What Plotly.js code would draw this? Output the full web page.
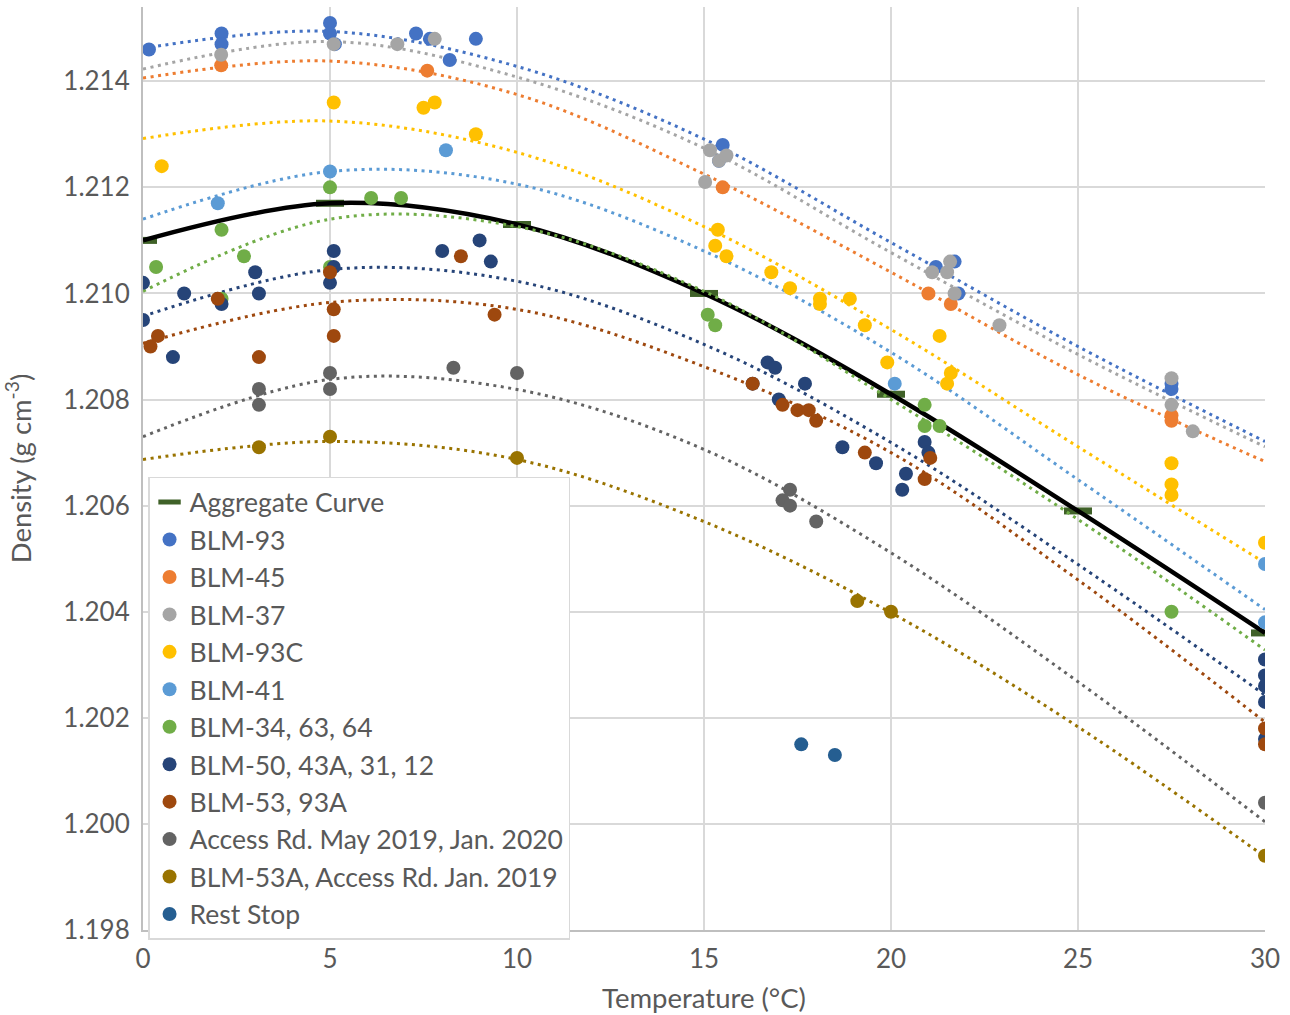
<!DOCTYPE html>
<html>
<head>
<meta charset="utf-8">
<script src="https://cdn.plot.ly/plotly-3.0.1.min.js"></script>
<style>html,body{margin:0;padding:0;background:#fff;}#chart{width:1290px;height:1015px;}</style>
</head>
<body>
<div id="chart"></div>
<script>
// ---- Data ----
const aggX = [0, 5, 10, 15, 20, 25, 30];
const aggY = [1.2110, 1.2117, 1.2113, 1.2100, 1.2081, 1.2059, 1.2036];

const blm93X = [0.16, 2.1, 2.1, 5.0, 5.0, 5.13, 7.3, 7.67, 8.2, 8.9, 15.5, 15.4, 21.2, 21.7, 21.8, 27.5, 27.5];
const blm93Y = [1.2146, 1.2149, 1.2147, 1.2151, 1.2149, 1.2147, 1.2149, 1.2148, 1.2144, 1.2148, 1.2128, 1.2125, 1.2105, 1.2106, 1.2100, 1.2083, 1.2082];

const blm45X = [2.09, 7.6, 15.5, 21.0, 21.6, 27.5, 27.5];
const blm45Y = [1.2143, 1.2142, 1.2120, 1.2100, 1.2098, 1.2077, 1.2076];

const blm37X = [2.09, 5.1, 6.8, 7.8, 15.03, 15.16, 15.4, 15.6, 21.1, 21.5, 21.58, 21.7, 22.9, 27.5, 27.5, 28.07];
const blm37Y = [1.2145, 1.2147, 1.2147, 1.2148, 1.2121, 1.2127, 1.2125, 1.2126, 1.2104, 1.2104, 1.2106, 1.2100, 1.2094, 1.2084, 1.2079, 1.2074];

const blm93cX = [0.5, 5.1, 7.5, 7.8, 8.9, 15.37, 15.3, 15.6, 16.8, 17.3, 18.1, 18.1, 18.9, 19.3, 19.9, 21.3, 21.6, 21.5, 27.5, 27.5, 27.5, 30];
const blm93cY = [1.2124, 1.2136, 1.2135, 1.2136, 1.2130, 1.2112, 1.2109, 1.2107, 1.2104, 1.2101, 1.2099, 1.2098, 1.2099, 1.2094, 1.2087, 1.2092, 1.2085, 1.2083, 1.2068, 1.2064, 1.2062, 1.2053];

const blm41X = [2.0, 5.0, 8.1, 20.1, 30, 30];
const blm41Y = [1.2117, 1.2123, 1.2127, 1.2083, 1.2049, 1.2038];

const blm34X = [0.35, 2.1, 2.7, 2.1, 5.0, 5.0, 6.1, 6.9, 15.1, 15.3, 20.9, 20.9, 21.3, 27.5];
const blm34Y = [1.2105, 1.2112, 1.2107, 1.2099, 1.2120, 1.2105, 1.2118, 1.2118, 1.2096, 1.2094, 1.2079, 1.2075, 1.2075, 1.2040];

const blm50X = [0, 0, 0.8, 1.1, 2.1, 3.0, 3.1, 5.1, 5.1, 5.0, 8.0, 9.0, 9.3, 16.7, 16.9, 16.3, 17.7, 17.0, 18.7, 19.6, 20.4, 20.3, 20.9, 21.0, 30, 30, 30, 30, 30];
const blm50Y = [1.2102, 1.2095, 1.2088, 1.2100, 1.2098, 1.2104, 1.2100, 1.2108, 1.2105, 1.2102, 1.2108, 1.2110, 1.2106, 1.2087, 1.2086, 1.2083, 1.2083, 1.2080, 1.2071, 1.2068, 1.2066, 1.2063, 1.2072, 1.2070, 1.2031, 1.2028, 1.2026, 1.2023, 1.2016];

const blm53X = [0.2, 0.4, 2.0, 3.1, 5.0, 5.1, 5.1, 8.5, 9.4, 16.3, 17.1, 17.5, 17.8, 18.0, 19.3, 20.9, 21.05, 30, 30];
const blm53Y = [1.2090, 1.2092, 1.2099, 1.2088, 1.2104, 1.2097, 1.2092, 1.2107, 1.2096, 1.2083, 1.2079, 1.2078, 1.2078, 1.2076, 1.2070, 1.2065, 1.2069, 1.2018, 1.2015];

const accessX = [3.1, 3.1, 5.0, 5.0, 8.3, 10.0, 17.3, 17.1, 17.3, 18.0, 30];
const accessY = [1.2082, 1.2079, 1.2085, 1.2082, 1.2086, 1.2085, 1.2063, 1.2061, 1.2060, 1.2057, 1.2004];

const blm53aX = [3.1, 5.0, 10.0, 19.1, 20.0, 30];
const blm53aY = [1.2071, 1.2073, 1.2069, 1.2042, 1.2040, 1.1994];

const restX = [17.6, 18.5];
const restY = [1.2015, 1.2013];

// Dotted trendlines (Excel polynomial trendlines)
const trendX = [0, 5, 10, 15, 20, 25, 30];
const trend93  = [1.21462, 1.21494, 1.21428, 1.21291, 1.21096, 1.20900, 1.20721];
const trend45  = [1.21406, 1.21438, 1.21375, 1.21225, 1.21040, 1.20847, 1.20683];
const trend37  = [1.21423, 1.21475, 1.21408, 1.21274, 1.21077, 1.20885, 1.20711];
const trend93c = [1.21292, 1.21325, 1.21266, 1.21126, 1.20932, 1.20711, 1.20492];
const trend41  = [1.21140, 1.21230, 1.21206, 1.21080, 1.20889, 1.20649, 1.20404];
const trend34  = [1.21004, 1.21140, 1.21126, 1.21004, 1.20800, 1.20574, 1.20328];
const trend50  = [1.20957, 1.21045, 1.21023, 1.20904, 1.20719, 1.20489, 1.20243];
const trend53  = [1.20906, 1.20983, 1.20970, 1.20862, 1.20700, 1.20460, 1.20192];
const trendAcc = [1.20730, 1.20838, 1.20819, 1.20706, 1.20511, 1.20268, 1.20004];
const trend53a = [1.20687, 1.20721, 1.20687, 1.20570, 1.20398, 1.20183, 1.19938];

const seriesNames = ["BLM-93", "BLM-45", "BLM-37", "BLM-93C", "BLM-41", "BLM-34, 63, 64",
  "BLM-50, 43A, 31, 12", "BLM-53, 93A", "Access Rd. May 2019, Jan. 2020",
  "BLM-53A, Access Rd. Jan. 2019", "Rest Stop"];
const seriesX = [blm93X, blm45X, blm37X, blm93cX, blm41X, blm34X, blm50X, blm53X, accessX, blm53aX, restX];
const seriesY = [blm93Y, blm45Y, blm37Y, blm93cY, blm41Y, blm34Y, blm50Y, blm53Y, accessY, blm53aY, restY];
const seriesTrend = [trend93, trend45, trend37, trend93c, trend41, trend34, trend50, trend53, trendAcc, trend53a, null];
const seriesColors = ["#4472C4", "#ED7D31", "#A5A5A5", "#FFC000", "#5B9BD5", "#70AD47",
  "#264478", "#9E480E", "#636363", "#997300", "#255E91"];

const font = "Lato, 'Open Sans', sans-serif";
const txt = "#595959";
const traces = [];

// Aggregate curve: markers (legend entry) + smoothed black line
traces.push({
  x: aggX, y: aggY, type: "scatter", mode: "markers", name: "Aggregate Curve",
  marker: {symbol: "line-ew", size: 20, color: "#3f6128", line: {color: "#3f6128", width: 7}},
  hoverinfo: "x+y"
});
traces.push({
  x: aggX, y: aggY, type: "scatter", mode: "lines", name: "Aggregate Curve line",
  line: {color: "#000000", width: 4.5, shape: "spline", smoothing: 1}, showlegend: false
});

// Trendlines
for (let s = 0; s < seriesNames.length; s++) {
  if (!seriesTrend[s]) continue;
  traces.push({
    x: trendX, y: seriesTrend[s], type: "scatter", mode: "lines", showlegend: false, hoverinfo: "skip",
    line: {color: seriesColors[s], width: 3, dash: "3px,4.5px", shape: "spline", smoothing: 1}
  });
}

// Data points
for (let s = 0; s < seriesNames.length; s++) {
  traces.push({
    x: seriesX[s], y: seriesY[s], type: "scatter", mode: "markers", name: seriesNames[s],
    marker: {color: seriesColors[s], size: 14, line: {width: 0}}
  });
}

const layout = {
  width: 1290, height: 1015,
  margin: {l: 143, r: 25, t: 7, b: 85},
  paper_bgcolor: "#ffffff", plot_bgcolor: "#ffffff",
  font: {family: font, color: txt, size: 24},
  showlegend: true,
  xaxis: {
    range: [0, 30], dtick: 5, tick0: 0, showgrid: true, gridcolor: "#d9d9d9", gridwidth: 1.5,
    zeroline: false, showline: true, linecolor: "#bfbfbf", linewidth: 2,
    ticks: "", tickfont: {family: font, size: 26, color: txt}, ticklabelstandoff: 5,
    title: {text: "Temperature (°C)", font: {family: font, size: 27.5, color: txt}, standoff: 16}
  },
  yaxis: {
    range: [1.198, 1.2154], dtick: 0.002, tick0: 1.198, tickformat: ".3f",
    showgrid: true, gridcolor: "#d9d9d9", gridwidth: 1.5,
    zeroline: false, showline: true, linecolor: "#bfbfbf", linewidth: 2,
    ticks: "", tickfont: {family: font, size: 26, color: txt}, ticklabelstandoff: 6,
    title: {text: "Density (g cm<sup>-3</sup>)", font: {family: font, size: 27.5, color: txt}, standoff: 24}
  },
  legend: {
    x: 0.0045, y: 0.491, xanchor: "left", yanchor: "top",
    bgcolor: "#ffffff", bordercolor: "#d9d9d9", borderwidth: 1.5,
    font: {family: font, size: 26.5, color: txt},
    traceorder: "grouped", tracegroupgap: 0, itemsizing: "trace"
  }
};

Plotly.newPlot("chart", traces, layout, {displayModeBar: false, responsive: false});
</script>
</body>
</html>
